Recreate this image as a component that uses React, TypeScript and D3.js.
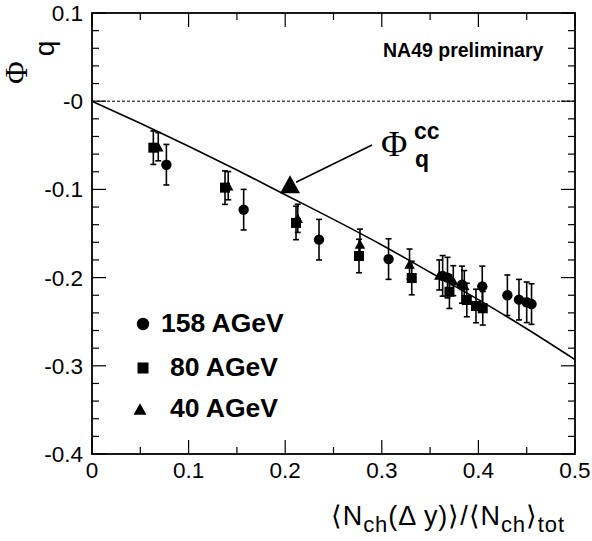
import React from "react";
import * as d3 from "d3";

// ---- data ----
const x158 = [0.077, 0.157, 0.235, 0.307, 0.363, 0.368, 0.383, 0.404, 0.43, 0.442, 0.45, 0.455];
const y158 = [-0.072, -0.123, -0.157, -0.179, -0.198, -0.2, -0.208, -0.21, -0.22, -0.225, -0.228, -0.23];
const e158 = [0.023, 0.023, 0.023, 0.023, 0.023, 0.023, 0.021, 0.023, 0.023, 0.023, 0.023, 0.023];

const x80 = [0.0635, 0.1377, 0.2112, 0.2764, 0.331, 0.37, 0.388, 0.3975, 0.4045];
const y80 = [-0.0527, -0.098, -0.138, -0.1755, -0.2005, -0.216, -0.2254, -0.2322, -0.2348];
const e80 = [0.019, 0.019, 0.019, 0.019, 0.019, 0.019, 0.019, 0.019, 0.019];

const x40 = [0.0686, 0.141, 0.213, 0.2774, 0.3287, 0.3595, 0.374, 0.3854];
const y40 = [-0.0516, -0.0958, -0.1328, -0.162, -0.1846, -0.197, -0.2035, -0.209];
const e40 = [0.016, 0.016, 0.016, 0.017, 0.017, 0.017, 0.017, 0.017];

// charge-conservation curve
const ccX = [0, 0.05, 0.1, 0.15, 0.2, 0.25, 0.3, 0.35, 0.4, 0.45, 0.5];
const ccY = [0, -0.025, -0.051, -0.078, -0.106, -0.134, -0.163, -0.194, -0.225, -0.258, -0.293];

const ccMarker = { x: 0.205, y: -0.093 };

const xTicks = [0, 0.1, 0.2, 0.3, 0.4, 0.5];
const xTickLabels = ["0", "0.1", "0.2", "0.3", "0.4", "0.5"];
const yTicks = [0.1, 0, -0.1, -0.2, -0.3, -0.4];
const yTickLabels = ["0.1", "-0", "-0.1", "-0.2", "-0.3", "-0.4"];

const legendLabels = ["158 AGeV", "80 AGeV", "40 AGeV"];

const W = 592;
const H = 541;
const L = 92, R = 575, T = 13, B = 454;

const sans = "'Liberation Sans', Arial, sans-serif";
const serif = "'Liberation Serif', 'Times New Roman', serif";

function tri(cx: number, cy: number, w: number) {
  const h = w * 0.9;
  return `M${cx - w / 2},${cy + h / 2}L${cx + w / 2},${cy + h / 2}L${cx},${cy - h / 2}Z`;
}

export default function App() {
  const xs = d3.scaleLinear().domain([0, 0.5]).range([L, R]);
  const ys = d3.scaleLinear().domain([-0.4, 0.1]).range([B, T]);

  const minorX = d3.range(0, 0.5001, 0.05);
  const minorY = d3.range(-0.4, 0.1001, 0.02);

  const line = d3
    .line<number>()
    .x((_, i) => xs(ccX[i]))
    .y((_, i) => ys(ccY[i]))
    .curve(d3.curveMonotoneX);

  const errBars = (xa: number[], ya: number[], ea: number[], key: string) =>
    xa.map((x, i) => {
      const cx = xs(x);
      const y1 = ys(ya[i] + ea[i]);
      const y2 = ys(ya[i] - ea[i]);
      return (
        <g key={key + i} stroke="#000" strokeWidth={1.6}>
          <line x1={cx} x2={cx} y1={y1} y2={y2} />
          <line x1={cx - 3} x2={cx + 3} y1={y1} y2={y1} />
          <line x1={cx - 3} x2={cx + 3} y1={y2} y2={y2} />
        </g>
      );
    });

  return (
    <div style={{ position: "absolute", left: 0, top: 0 }}>
      <svg width={W} height={H} style={{ display: "block", background: "#fff" }}>
        <rect x={0} y={0} width={W} height={H} fill="#fff" />
        {/* dashed zero line */}
        <line x1={L} x2={R} y1={ys(0)} y2={ys(0)} stroke="#000" strokeWidth={1} strokeDasharray="3,2" />

        {/* ticks */}
        {minorX.map((v, i) => {
          const major = i % 2 === 0;
          const len = major ? 14 : 7;
          return (
            <g key={"xt" + i} stroke="#000" strokeWidth={1.2}>
              <line x1={xs(v)} x2={xs(v)} y1={B} y2={B - len} />
              <line x1={xs(v)} x2={xs(v)} y1={T} y2={T + len} />
            </g>
          );
        })}
        {minorY.map((v, i) => {
          const major = i % 5 === 0;
          const len = major ? 14 : 7;
          return (
            <g key={"yt" + i} stroke="#000" strokeWidth={1.2}>
              <line x1={L} x2={L + len} y1={ys(v)} y2={ys(v)} />
              <line x1={R} x2={R - len} y1={ys(v)} y2={ys(v)} />
            </g>
          );
        })}

        {/* frame */}
        <rect x={L} y={T} width={R - L} height={B - T} fill="none" stroke="#000" strokeWidth={1.8} />

        {/* tick labels */}
        {xTicks.map((v, i) => (
          <text key={"xl" + i} x={xs(v)} y={478} textAnchor="middle" fontFamily={sans} fontSize={22.5}>
            {xTickLabels[i]}
          </text>
        ))}
        {yTicks.map((v, i) => (
          <text key={"yl" + i} x={83} y={ys(v) + 8} textAnchor="end" fontFamily={sans} fontSize={22.5}>
            {yTickLabels[i]}
          </text>
        ))}

        {/* axis titles */}
        <text transform="translate(27,84) rotate(-90)" fontFamily={serif} fontSize={31}>
          Φ
          <tspan fontFamily={sans} fontSize={28} dy={27} dx={5}>q</tspan>
        </text>
        <text x={565} y={525} textAnchor="end" fontFamily={sans} fontSize={27} letterSpacing={0.9}>
          ⟨N<tspan fontSize={22} dy={7}>ch</tspan>
          <tspan dy={-7}>(Δ y)⟩/⟨N</tspan>
          <tspan fontSize={22} dy={7}>ch</tspan>
          <tspan dy={-7}>⟩</tspan>
          <tspan fontSize={22} dy={7}>tot</tspan>
        </text>

        {/* cc curve */}
        <path d={line(ccX) || ""} fill="none" stroke="#000" strokeWidth={1.6} />

        {/* data */}
        {errBars(x158, y158, e158, "e158")}
        {errBars(x80, y80, e80, "e80")}
        {errBars(x40, y40, e40, "e40")}
        {x158.map((x, i) => (
          <circle key={"c" + i} cx={xs(x)} cy={ys(y158[i])} r={5.2} fill="#000" />
        ))}
        {x80.map((x, i) => (
          <rect key={"s" + i} x={xs(x) - 5} y={ys(y80[i]) - 5} width={10} height={10} fill="#000" />
        ))}
        {x40.map((x, i) => (
          <path key={"t" + i} d={tri(xs(x), ys(y40[i]), 10.5)} fill="#000" />
        ))}

        {/* cc marker + arrow */}
        <path d={tri(xs(ccMarker.x), ys(ccMarker.y) + 1, 20)} fill="#000" />
        <line x1={372} y1={145} x2={xs(ccMarker.x) + 6} y2={ys(ccMarker.y) - 1} stroke="#000" strokeWidth={1.6} />
        <text x={381} y={156} fontFamily={serif} fontSize={36}>Φ</text>
        <text x={414} y={139} fontFamily={sans} fontSize={23} fontWeight="bold">cc</text>
        <text x={415} y={167} fontFamily={sans} fontSize={23} fontWeight="bold">q</text>

        {/* NA49 label */}
        <text x={383} y={57} fontFamily={sans} fontSize={19.5} fontWeight="bold">NA49 preliminary</text>

        {/* legend */}
        <circle cx={143} cy={324} r={6.2} fill="#000" />
        <text x={161} y={332} fontFamily={sans} fontSize={26.5} fontWeight="bold">{legendLabels[0]}</text>
        <rect x={137.5} y={362.5} width={11} height={11} fill="#000" />
        <text x={170} y={376} fontFamily={sans} fontSize={26.5} fontWeight="bold">{legendLabels[1]}</text>
        <path d={tri(140, 409, 13)} fill="#000" />
        <text x={170} y={417} fontFamily={sans} fontSize={26.5} fontWeight="bold">{legendLabels[2]}</text>
      </svg>
    </div>
  );
}
